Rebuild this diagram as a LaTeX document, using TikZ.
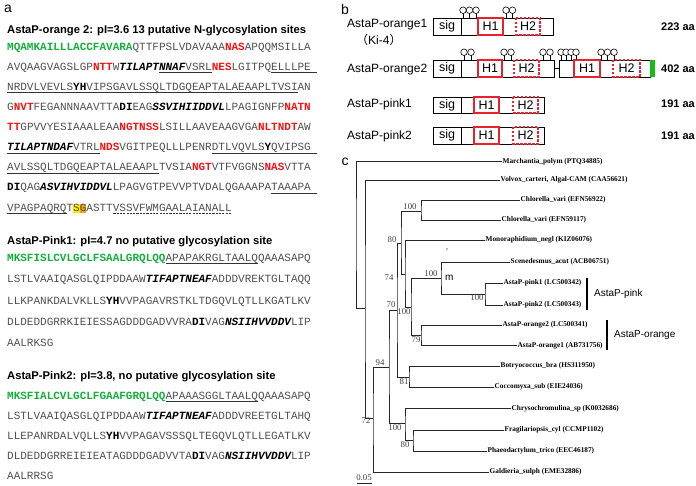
\documentclass[tikz,border=0pt]{standalone}
\usepackage{fontspec}
\setmainfont{Liberation Serif}
\setsansfont{Liberation Sans}
\setmonofont{Liberation Mono}
\newfontfamily\cjkfont{Noto Sans CJK SC}
\usepackage{xcolor}
\definecolor{seqgray}{RGB}{80,80,80}
\definecolor{seqgreen}{RGB}{20,175,60}
\definecolor{seqred}{RGB}{245,20,20}
\definecolor{domred}{RGB}{230,35,45}
\definecolor{hlyellow}{RGB}{255,235,0}
\definecolor{hlorange}{RGB}{245,160,20}
\definecolor{bargreen}{RGB}{20,190,20}
\newsavebox\ulbox
\newcommand\gr[1]{\textcolor{seqgreen}{\bfseries #1}}
\newcommand\rd[1]{\textcolor{seqred}{\bfseries #1}}
\newcommand\bd[1]{\textcolor{black}{\bfseries #1}}
\newcommand\bi[1]{\textcolor{black}{\bfseries\itshape #1}}
\newcommand\ulx[1]{\sbox\ulbox{#1}\rlap{\textcolor{black!80}{\rule[-2.6pt]{\wd\ulbox}{0.7pt}}}\usebox\ulbox}
\newcommand\dulx[1]{\sbox\ulbox{#1}\rlap{\raisebox{-2.6pt}{\hbox to \wd\ulbox{\color{black!80}\xleaders\hbox to 3.3pt{\hss\rule{2.2pt}{0.7pt}\hss}\hfill}}}\usebox\ulbox}
\newcommand\hl[2]{{\setlength\fboxsep{0pt}\colorbox{#1}{\vphantom{Qy}#2}}}
\tikzset{
 seq/.style={anchor=base west, inner sep=0pt, font=\ttfamily\fontsize{11}{13}\selectfont, text=seqgray},
 ttl/.style={anchor=base west, inner sep=0pt, font=\sffamily\bfseries\fontsize{11.2}{13}\selectfont},
 plabel/.style={anchor=center, inner sep=0pt, font=\sffamily\fontsize{14}{16}\selectfont},
 pname/.style={anchor=base west, inner sep=0pt, font=\sffamily\fontsize{12}{14}\selectfont},
 aalen/.style={anchor=base west, inner sep=0pt, font=\sffamily\bfseries\fontsize{11}{13}\selectfont},
 domtxt/.style={anchor=center, inner sep=0pt, font=\sffamily\fontsize{12.5}{14}\selectfont},
 dombox/.style={draw=black, line width=0.8pt},
 hsolid/.style={draw=domred, line width=1.1pt},
 hdash/.style={draw=domred, line width=1.1pt, dash pattern=on 2.5pt off 1.5pt},
 lolli/.style={draw=black, line width=0.6pt},
 leaf/.style={anchor=west, inner sep=0.5pt, font=\rmfamily\bfseries\fontsize{7.3}{8.5}\selectfont},
 boot/.style={anchor=center, inner sep=0pt, font=\rmfamily\fontsize{8.8}{10}\selectfont, text=black!75},
 branch/.style={draw=black!85, line width=0.7pt},
 clade/.style={anchor=west, inner sep=0pt, font=\sffamily\fontsize{10}{12}\selectfont},
 cladebar/.style={draw=black, line width=1.1pt},
}
\begin{document}
\begin{tikzpicture}[x=1pt,y=-1pt]
\fill[white] (0,0) rectangle (696,486);
\useasboundingbox (0,0) rectangle (696,486);

% ---------------- panel a ----------------
\node[plabel] (la) at (8,9) {a};
\node[ttl] (t1) at (7,33.2) {AstaP-orange 2: pI=3.6 13 putative N-glycosylation sites};
\node[seq] (o1) at (7,50.3) {\gr{MQAMKAILLLACCFAVARA}QTTFPSLVDAVAAA\rd{NAS}APQQMSILLA};
\node[seq] (o2) at (7,70.4) {AVQAAGVAGSLGP\rd{NTT}W\bi{TILAPT\ulx{NNAF}}\ulx{VSRL}\rd{NES}LGITPQ\ulx{ELLLPE\phantom{A}}};
\node[seq] (o3) at (7,90.5) {\ulx{NRDVLVEVLS\bd{YH}VIPSGAVLSSQLTDGQEAPTALAEAAPLTVSI}AN};
\node[seq] (o4) at (7,110.6) {G\rd{NVT}FEGANNNAAVTTA\bd{DI}EAG\bi{SSVIHIIDDVL}LPAGIGNFP\rd{NATN}};
\node[seq] (o5) at (7,130.7) {\rd{TT}GPVVYESIAAALEAA\rd{NGTNSS}LSILLAAVEAAGVGA\rd{NLTNDT}AW};
\node[seq] (o6) at (7,150.8) {\ulx{\bi{TILAPTNDAF}VTRL}\rd{NDS}VGITPEQLLLPENR\ulx{DTLVQVLS\bd{Y}QVIPSG\phantom{A}}};
\node[seq] (o7) at (7,170.9) {\ulx{AVLSSQLTDGQEAPTALAEAAPL}TVSIA\rd{NGT}VTFVGGNS\rd{NAS}VTTA};
\node[seq] (o8) at (7,191.0) {\bd{DI}QAG\bi{ASVIHVIDDVL}LPAGVGTPEVVPTVDALQGAAAPA\ulx{TAAAPA\phantom{A}}};
\node[seq] (o9) at (7,211.1) {\ulx{VPAGPAQRQ}T\hl{hlyellow}{S}\hl{hlorange}{G}ASTT\dulx{VSSVFWMGAALAIANALL}};

\node[ttl] (t2) at (7,244.2) {AstaP-Pink1: pI=4.7 no putative glycosylation site};
\node[seq] (p1) at (7,261.5) {\gr{MKSFISLCVLGCLFSAALGRQLQQ}\ulx{APAPAKRGLTAALQ}QAAASAPQ};
\node[seq] (p2) at (7,282.8) {LSTLVAAIQASGLQIPDDAAW\bi{TIFAPTNEAF}ADDDVREKTGLTAQQ};
\node[seq] (p3) at (7,304.1) {LLKPANKDALVKLLS\bd{YH}VVPAGAVRSTKLTDGQVLQTLLKGATLKV};
\node[seq] (p4) at (7,325.4) {DLDEDDGRRKIEIESSAGDDDGADVVRA\bd{DI}VAG\bi{NSIIHVVDDV}LIP};
\node[seq] (p5) at (7,346.7) {AALRKSG};

\node[ttl] (t3) at (7,379.2) {AstaP-Pink2: pI=3.8, no putative glycosylation site};
\node[seq] (q1) at (7,399.3) {\gr{MKSFIALCVLGCLFGAAFGRQLQQ}\ulx{APAAASGGLTAALQ}QAAASAPQ};
\node[seq] (q2) at (7,419.3) {LSTLVAAIQASGLQIPDDAAW\bi{TIFAPTNEAF}ADDDVREETGLTAHQ};
\node[seq] (q3) at (7,439.3) {LLEPANRDALVQLLS\bd{YH}VVPAGAVSSSQLTEGQVLQTLLEGATLKV};
\node[seq] (q4) at (7,459.3) {DLDEDDGRREIEIEATAGDDDGADVVTA\bd{DI}VAG\bi{NSIIHVVDDV}LIP};
\node[seq] (q5) at (7,479.3) {AALRRSG};

% ---------------- panel b ----------------
\node[plabel] (lb) at (345,9) {b};
\node[pname] (n1) at (347,27.5) {AstaP-orange1};
\node[pname] (n1b) at (356,44.5) {{\cjkfont （}Ki-4{\cjkfont ）}};
\node[pname] (n2) at (347,72.5) {AstaP-orange2};
\node[pname] (n3) at (347,108) {AstaP-pink1};
\node[pname] (n4) at (347,140) {AstaP-pink2};
\node[aalen] (a1) at (661,30.6) {223 aa};
\node[aalen] (a2) at (661,72.4) {402 aa};
\node[aalen] (a3) at (661,108) {191 aa};
\node[aalen] (a4) at (661,140) {191 aa};

% orange1
\draw[dombox] (433,18) rectangle (553,35);
\draw[dombox] (461,18) -- (461,35);
\draw[hsolid] (478,18) rectangle (503,35);
\draw[hdash] (516,18) rectangle (540,35);
\node[domtxt] (s1) at (447,26.5) {sig};
\node[domtxt] (h11) at (490.5,26.5) {H1};
\node[domtxt] (h12) at (528,26.5) {H2};
\foreach \px in {463,469.5,476,506,512.5} {
  \draw[lolli] (\px,18) -- (\px,13.5);
  \draw[lolli,fill=white] (\px,10.2) circle (3.3);
}
% orange2
\draw[dombox] (433,60) rectangle (554,77);
\draw[dombox] (461,60) -- (461,77);
\draw[hsolid] (478,60) rectangle (502,77);
\draw[hdash] (514,60) rectangle (539,77);
\draw[dombox] (554,68.5) -- (559,68.5);
\draw[dombox] (559,60) rectangle (650,77);
\draw[hsolid] (574,60) rectangle (600,77);
\draw[hdash] (613,60) rectangle (640,77);
\fill[bargreen] (650,60) rectangle (655,77);
\node[domtxt] (s2) at (447,68.5) {sig};
\node[domtxt] (h21) at (490,68.5) {H1};
\node[domtxt] (h22) at (526.5,68.5) {H2};
\node[domtxt] (h23) at (587,68.5) {H1};
\node[domtxt] (h24) at (626.5,68.5) {H2};
\foreach \px in {464,471,504,511,543,550,561,566,571,576,601,607.5,614} {
  \draw[lolli] (\px,60) -- (\px,55.5);
  \draw[lolli,fill=white] (\px,52.2) circle (3.3);
}
% pink1
\draw[dombox] (433,97) rectangle (544,113);
\draw[dombox] (461,97) -- (461,113);
\draw[hsolid] (474,97) rectangle (499,113);
\draw[hdash] (513,97) rectangle (538,113);
\node[domtxt] (s3) at (447,105) {sig};
\node[domtxt] (h31) at (486.5,105) {H1};
\node[domtxt] (h32) at (525.5,105) {H2};
% pink2
\draw[dombox] (433,127) rectangle (544,144);
\draw[dombox] (461,127) -- (461,144);
\draw[hsolid] (474,127) rectangle (499,144);
\draw[hdash] (513,127) rectangle (538,144);
\node[domtxt] (s4) at (447,135.5) {sig};
\node[domtxt] (h41) at (486.5,135.5) {H1};
\node[domtxt] (h42) at (525.5,135.5) {H2};

% ---------------- panel c ----------------
\node[plabel] (lc) at (345,162) {c};
\node[leaf] (Lmar) at (502,161.5) {Marchantia\_polym (PTQ34885)};
\node[leaf] (Lvol) at (500,180) {Volvox\_carteri, Algal-CAM (CAA56621)};
\node[leaf] (Lch1) at (520,200) {Chlorella\_vari (EFN56922)};
\node[leaf] (Lch2) at (501,220) {Chlorella\_vari (EFN59117)};
\node[leaf] (Lmon) at (485,240) {Monoraphidium\_negl (KIZ06076)};
\node[leaf] (Lsce) at (510,262) {Scenedesmus\_acut (ACB06751)};
\node[leaf] (Lpk1) at (503,283) {AstaP-pink1 (LC500342)};
\node[leaf] (Lpk2) at (503,305) {AstaP-pink2 (LC500343)};
\node[leaf] (Lor2) at (502,325) {AstaP-orange2 (LC500341)};
\node[leaf] (Lor1) at (517,345.5) {AstaP-orange1 (AB731756)};
\node[leaf] (Lbot) at (500,366) {Botryococcus\_bra (HS311950)};
\node[leaf] (Lcoc) at (494,387) {Coccomyxa\_sub (EIE24036)};
\node[leaf] (Lchr) at (511,408.5) {Chrysochromulina\_sp (K0032686)};
\node[leaf] (Lfra) at (504,430) {Fragilariopsis\_cyl (CCMP1102)};
\node[leaf] (Lpha) at (487,451) {Phaeodactylum\_trico (EEC46187)};
\node[leaf] (Lgal) at (489,472) {Galdieria\_sulph (EME32886)};

\coordinate (nR) at (356,235);
\coordinate (n72) at (365,308);
\coordinate (n94) at (373,418);
\coordinate (n70) at (389,367);
\coordinate (n74) at (397,310);
\coordinate (n80) at (401,243);
\coordinate (nChl) at (421,211);
\coordinate (nA) at (405,274);
\coordinate (nB) at (411,307);
\coordinate (nSc) at (441,278);
\coordinate (nPk) at (485,294);
\coordinate (nOr) at (421,335);
\coordinate (nBo) at (409,377);
\coordinate (nCr) at (405,423);
\coordinate (nFr) at (413,440);

\draw[branch] (Lmar.west) -| (nR) |- (n72);
\draw[branch] (Lvol.west) -| (n72) |- (n94);
\draw[branch] (n70) -| (n94) |- (Lgal.west);
\draw[branch] (n74) -| (n70) |- (nCr);
\draw[branch] (n80) -| (n74) |- (nBo);
\draw[branch] (nChl) -| (n80) |- (nA);
\draw[branch] (Lch1.west) -| (nChl) |- (Lch2.west);
\draw[branch] (Lmon.west) -| (nA) |- (nB);
\draw[branch] (nSc) -| (nB) |- (nOr);
\draw[branch] (Lsce.west) -| (nSc) |- (nPk);
\draw[branch] (Lpk1.west) -| (nPk) |- (Lpk2.west);
\draw[branch] (Lor2.west) -| (nOr) |- (Lor1.west);
\draw[branch] (Lbot.west) -| (nBo) |- (Lcoc.west);
\draw[branch] (Lchr.west) -| (nCr) |- (nFr);
\draw[branch] (Lfra.west) -| (nFr) |- (Lpha.west);

\node[boot] (b72) at (366,421) {72};
\node[boot] (b94) at (380,363) {94};
\node[boot] (b70) at (391,305) {70};
\node[boot] (b74) at (389,278) {74};
\node[boot] (b80) at (392,240) {80};
\node[boot] (bchl) at (410,207) {100};
\node[boot] (bA) at (404,312) {100};
\node[boot] (bB) at (431,274) {100};
\node[clade] (mlab) at (445,278) {m};
\node[boot] (tick) at (447,252) {'};
\node[boot] (bpk) at (477,298) {100};
\node[boot] (bor) at (416,340) {79};
\node[boot] (bbo) at (404,382) {81};
\node[boot] (bcr) at (395,428) {100};
\node[boot] (bfr) at (405,445) {80};

\node[boot] (scl) at (364,478) {0.05};
\draw[branch] (357,483) -- (372,483);

\coordinate (pkt) at (587,278);
\coordinate (pkb) at (587,310);
\draw[cladebar] (pkt) -- (pkb);
\node[clade] (cpk) at (594,294) {AstaP-pink};
\coordinate (ort) at (607,320);
\coordinate (orb) at (607,350);
\draw[cladebar] (ort) -- (orb);
\node[clade] (cor) at (614,335) {AstaP-orange};
\end{tikzpicture}
\end{document}
